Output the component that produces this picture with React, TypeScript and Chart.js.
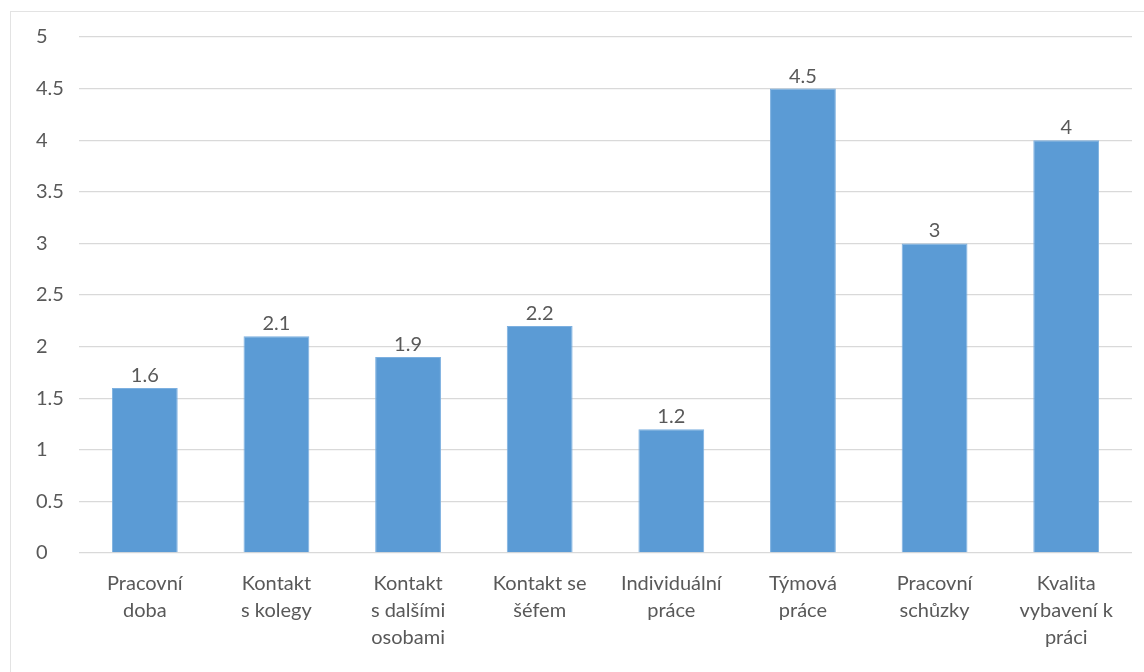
import React, { useEffect, useRef } from "react";
import { Chart, registerables } from "chart.js";

Chart.register(...registerables);

const categories: string[][] = [
  ["Pracovní", "doba"],
  ["Kontakt", "s kolegy"],
  ["Kontakt", "s dalšími", "osobami"],
  ["Kontakt se", "šéfem"],
  ["Individuální", "práce"],
  ["Týmová", "práce"],
  ["Pracovní", "schůzky"],
  ["Kvalita", "vybavení k", "práci"],
];
const values: number[] = [1.6, 2.1, 1.9, 2.2, 1.2, 4.5, 3, 4];
const yMin = 0;
const yMax = 5;
const yStep = 0.5;

const FONT = "Lato, 'Open Sans', sans-serif";
const TEXT = "#595959";

const dataLabels = {
  id: "dataLabels",
  afterDatasetsDraw(chart: any) {
    const ctx = chart.ctx;
    const meta = chart.getDatasetMeta(0);
    ctx.save();
    ctx.font = `20px ${FONT}`;
    ctx.fillStyle = TEXT;
    ctx.textAlign = "center";
    ctx.textBaseline = "alphabetic";
    meta.data.forEach((bar: any, i: number) => {
      ctx.fillText(String(values[i]), bar.x, bar.y - 6);
    });
    ctx.restore();
  },
};

export default function App() {
  const ref = useRef<HTMLCanvasElement>(null);
  useEffect(() => {
    if (!ref.current) return;
    const chart = new Chart(ref.current, {
      type: "bar",
      data: {
        labels: categories,
        datasets: [
          {
            data: values,
            backgroundColor: "#5B9BD5",
            borderColor: "#7DB0E0",
            borderWidth: 1,
            categoryPercentage: 1,
            barPercentage: 0.5,
          },
        ],
      },
      options: {
        responsive: false,
        animation: false,
        devicePixelRatio: 1,
        layout: { padding: { left: 36, top: 37, right: 12, bottom: 0 } },
        plugins: { legend: { display: false }, tooltip: { enabled: false } },
        scales: {
          x: {
            grid: { display: false },
            border: { display: false },
            ticks: {
              color: TEXT,
              font: { family: FONT, size: 20, lineHeight: 1.35 },
              padding: 9,
              maxRotation: 0,
              autoSkip: false,
            },
            afterFit: (s: any) => {
              s.height = 119;
            },
          },
          y: {
            min: yMin,
            max: yMax,
            border: { display: false },
            grid: { color: "#D9D9D9", lineWidth: 1.3, drawTicks: false },
            ticks: {
              stepSize: yStep,
              color: TEXT,
              font: { family: FONT, size: 20 },
              crossAlign: "far",
              padding: 8,
              callback: (v: any) => String(v),
            },
            afterFit: (s: any) => {
              s.width = 43;
            },
          },
        },
      },
      plugins: [dataLabels],
    });
    return () => chart.destroy();
  }, []);

  return (
    <div
      style={{
        position: "fixed",
        left: 0,
        top: 0,
        width: 1144,
        height: 672,
        background: "#fff",
        overflow: "hidden",
      }}
    >
      <div
        style={{
          position: "absolute",
          left: 10,
          top: 11,
          width: 1200,
          height: 700,
          borderLeft: "1px solid #E3E3E3",
          borderTop: "1px solid #E3E3E3",
        }}
      />
      <canvas
        ref={ref}
        width={1144}
        height={672}
        style={{ position: "absolute", left: 0, top: 0 }}
      />
    </div>
  );
}
